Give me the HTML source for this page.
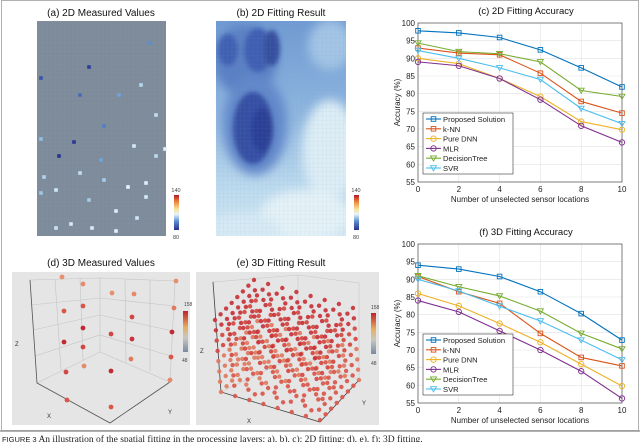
<!DOCTYPE html>
<html><head><meta charset="utf-8"><style>
body{margin:0;background:#fff;}
svg{display:block;font-family:"Liberation Sans",sans-serif;}
</style></head><body>
<svg id="fig" width="640" height="442" viewBox="0 0 640 442">
<defs>
<linearGradient id="cbar2d" x1="0" y1="1" x2="0" y2="0">
<stop offset="0" stop-color="#2a2f8a"/><stop offset="0.25" stop-color="#5b8fd0"/><stop offset="0.45" stop-color="#e8f4f8"/><stop offset="0.6" stop-color="#f7e29a"/><stop offset="0.8" stop-color="#ef8a3a"/><stop offset="1" stop-color="#b2182b"/>
</linearGradient>
<linearGradient id="cbar3d" x1="0" y1="1" x2="0" y2="0">
<stop offset="0" stop-color="#7a8aa0"/><stop offset="0.35" stop-color="#c8c8c0"/><stop offset="0.6" stop-color="#e6b060"/><stop offset="1" stop-color="#c0202a"/>
</linearGradient>
<linearGradient id="hmbase" x1="0" y1="0" x2="0" y2="1">
<stop offset="0" stop-color="#6f9ad3"/><stop offset="0.45" stop-color="#8fb7e0"/><stop offset="0.75" stop-color="#b9d8ee"/><stop offset="1" stop-color="#d3e8f4"/>
</linearGradient>
<filter id="blur6"><feGaussianBlur stdDeviation="5"/></filter>
<filter id="blur3"><feGaussianBlur stdDeviation="2.5"/></filter>
<clipPath id="hmclip"><rect x="216" y="21" width="130" height="215"/></clipPath>
<clipPath id="eclip"><rect x="196" y="272" width="183" height="153"/></clipPath>
<pattern id="gridpat" width="4.3" height="4.3" patternUnits="userSpaceOnUse"><path d="M4.3 0V4.3H0" fill="none" stroke="#8a97a6" stroke-width="0.5"/></pattern>
</defs>

<rect x="1.5" y="0.5" width="637" height="430" fill="none" stroke="#b0b0b0"/>

<!-- (a) -->
<g>
<text x="101" y="16" font-size="10" text-anchor="middle" fill="#111">(a) 2D Measured Values</text>
<rect x="37" y="21" width="129" height="215" fill="#7d8b9b"/>
<rect x="37" y="21" width="129" height="215" fill="url(#gridpat)" opacity="0.6"/>
<g id="asq"></g>
<rect x="174" y="195" width="5" height="35" fill="url(#cbar2d)"/>
<text x="176" y="192" font-size="5.5" text-anchor="middle" fill="#444">140</text>
<text x="176" y="239" font-size="5.5" text-anchor="middle" fill="#444">80</text>
</g>

<!-- (b) -->
<g>
<text x="281" y="16" font-size="10" text-anchor="middle" fill="#111">(b) 2D Fitting Result</text>
<g clip-path="url(#hmclip)">
<rect x="216" y="21" width="130" height="215" fill="url(#hmbase)"/>
<g filter="url(#blur6)">
<ellipse cx="330" cy="150" rx="28" ry="50" fill="#dcedf6"/>
<ellipse cx="305" cy="215" rx="45" ry="25" fill="#e4f2f8"/>
<ellipse cx="245" cy="228" rx="35" ry="14" fill="#d6eaf5"/>
<ellipse cx="330" cy="45" rx="22" ry="25" fill="#a2c4e5"/>
<ellipse cx="245" cy="60" rx="32" ry="35" fill="#5a80c5"/>
<ellipse cx="255" cy="125" rx="32" ry="50" fill="#6288cb"/>
</g>
<g filter="url(#blur3)">
<ellipse cx="258" cy="50" rx="14" ry="22" fill="#3f5eb2"/>
<ellipse cx="228" cy="50" rx="10" ry="16" fill="#4060b2"/>
<ellipse cx="253" cy="128" rx="20" ry="36" fill="#3450a4"/>
<ellipse cx="262" cy="130" rx="11" ry="22" fill="#2b3f97"/>
<ellipse cx="272" cy="48" rx="8" ry="18" fill="#35509f"/>
</g>
<rect x="216" y="21" width="130" height="215" fill="url(#gridpat)" opacity="0.25"/>
</g>
<rect x="354" y="195" width="5" height="35" fill="url(#cbar2d)"/>
<text x="356" y="192" font-size="5.5" text-anchor="middle" fill="#444">140</text>
<text x="356" y="239" font-size="5.5" text-anchor="middle" fill="#444">80</text>
</g>

<!-- (d) -->
<g>
<text x="101" y="266" font-size="10" text-anchor="middle" fill="#111">(d) 3D Measured Values</text>
<rect x="12" y="272" width="178" height="153" fill="#e5e5e5"/>
<g stroke="#c4c4c4" stroke-width="0.6" fill="none">
<path d="M30 280L37 383L110 423L170 382L175 281L100 278Z"/>
<path d="M100 278L100 352L37 383M100 352L170 382"/>
<path d="M55 279L61 370M80 278L83 360M125 279L126 362M150 280L150 372"/>
<path d="M31 305L100 298L174 306M33 330L100 315L173 331M35 356L100 335L171 356"/>
</g>
<path d="M30 280L37 383L110 423L170 382" stroke="#555" stroke-width="0.8" fill="none"/>
<g id="dpts"></g>
<text x="15" y="346" font-size="6" fill="#333">Z</text>
<text x="47" y="418" font-size="6" fill="#333">X</text>
<text x="168" y="414" font-size="6" fill="#333">Y</text>
<rect x="183" y="311" width="5" height="41" fill="url(#cbar3d)"/>
<text x="184" y="306" font-size="5" fill="#444">158</text>
<text x="182" y="362" font-size="5" fill="#444">48</text>
</g>

<!-- (e) -->
<g>
<text x="281" y="266" font-size="10" text-anchor="middle" fill="#111">(e) 3D Fitting Result</text>
<rect x="196" y="272" width="183" height="153" fill="#e5e5e5"/>
<g stroke="#c8c8c8" stroke-width="0.6" fill="none">
<path d="M213 282L221 392L320 422L359 380L359 283L298 275Z"/>
<path d="M298 275L298 355L221 392M298 355L359 380"/>
</g>
<path d="M213 282L221 392L320 422L359 380" stroke="#444" stroke-width="0.8" fill="none"/>
<g id="epts" clip-path="url(#eclip)"></g>
<text x="200" y="353" font-size="6" fill="#333">Z</text>
<text x="247" y="423" font-size="6" fill="#333">X</text>
<text x="362" y="405" font-size="6" fill="#333">Y</text>
<rect x="371" y="313" width="5" height="41" fill="url(#cbar3d)"/>
<text x="371" y="309" font-size="5" fill="#444">158</text>
<text x="371" y="365" font-size="5" fill="#444">48</text>
</g>

<g id="chartC"></g>
<g id="chartF"></g>

<line x1="0" y1="431" x2="640" y2="431" stroke="#999" stroke-width="1.5"/>
<text x="2" y="442" font-size="9.5" fill="#222" font-family="Liberation Serif, serif"><tspan font-size="7.5" font-family="Liberation Sans, sans-serif">FIGURE 3</tspan>  An illustration of the spatial fitting in the processing layers: a), b), c): 2D fitting; d), e), f): 3D fitting.</text>
</svg>
<script>
const NS='http://www.w3.org/2000/svg';
function mk(t,a,p){const e=document.createElementNS(NS,t);for(const k in a)e.setAttribute(k,a[k]);p.appendChild(e);return e;}

const xTicks=[0,2,4,6,8,10];
const yTicks=[55,60,65,70,75,80,85,90,95,100];
const seriesNames=['Proposed Solution','k-NN','Pure DNN','MLR','DecisionTree','SVR'];
const seriesColors=['#0072BD','#D95319','#EDB120','#7E2F8E','#77AC30','#4DBEEE'];
const seriesMarkers=['square','square','circle','circle','tri','tri'];
const c2dProposed=[97.8,97.2,95.9,92.4,87.3,81.9];
const c2dKNN=[92.9,91.5,91.0,85.8,77.8,74.5];
const c2dDNN=[90.0,88.5,84.3,79.2,72.1,69.8];
const c2dMLR=[89.0,87.9,84.3,78.3,70.9,66.2];
const c2dDT=[94.3,91.9,91.3,89.0,80.9,79.2];
const c2dSVR=[92.2,90.0,87.3,84.0,75.8,71.5];
const f3dProposed=[94.0,92.9,90.8,86.5,80.3,72.8];
const f3dKNN=[90.8,86.5,83.2,74.7,67.9,65.5];
const f3dDNN=[86.0,82.5,77.5,72.2,66.0,59.8];
const f3dMLR=[84.0,80.8,75.4,70.0,64.0,56.3];
const f3dDT=[91.0,87.9,85.3,81.0,74.7,70.3];
const f3dSVR=[90.0,86.7,82.4,78.2,72.8,67.2];

function drawChart(g,title,top,series,tag){
  const L=418,R=622,T=top,B=top+159;
  const sx=v=>L+(v-0)/10*(R-L);
  const sy=v=>B-(v-55)/45*(B-T);
  mk('rect',{x:L,y:T,width:R-L,height:B-T,fill:'#fff'},g);
  yTicks.forEach(v=>{
    const l=mk('line',{x1:L,x2:R,y1:sy(v),y2:sy(v),stroke:'#e2e2e2','stroke-width':0.6},g);
    
    
    const t=mk('text',{x:L-3,y:sy(v)+3,'font-size':8,'text-anchor':'end',fill:'#222'},g);t.textContent=v;
    
    
  });
  xTicks.forEach(v=>{
    mk('line',{x1:sx(v),x2:sx(v),y1:T,y2:B,stroke:'#e2e2e2','stroke-width':0.6},g);
    const t=mk('text',{x:sx(v),y:B+10,'font-size':8,'text-anchor':'middle',fill:'#222'},g);t.textContent=v;
    
    
  });
  mk('rect',{x:L,y:T,width:R-L,height:B-T,fill:'none',stroke:'#333','stroke-width':0.6},g);
  const tt=mk('text',{x:(L+R)/2+6,y:T-9,'font-size':9.5,'text-anchor':'middle',fill:'#111'},g);tt.textContent=title;
  
  
  const xl=mk('text',{x:(L+R)/2,y:B+20,'font-size':8,'text-anchor':'middle',fill:'#222'},g);xl.textContent='Number of unselected sensor locations';
  
  
  const yl=mk('text',{x:0,y:0,'font-size':8,'text-anchor':'middle',fill:'#222',transform:`translate(400,${(T+B)/2}) rotate(-90)`},g);yl.textContent='Accuracy (%)';
  
  
  function marker(p,x,y,i){
    const c=seriesColors[i],m=seriesMarkers[i];let e;
    if(m==='square')e=mk('rect',{x:x-2.3,y:y-2.3,width:4.6,height:4.6,fill:'none',stroke:c,'stroke-width':0.9},p);
    else if(m==='circle')e=mk('circle',{cx:x,cy:y,r:2.7,fill:'none',stroke:c,'stroke-width':0.9},p);
    else e=mk('path',{d:`M${x-3} ${y-2.3}L${x+3} ${y-2.3}L${x} ${y+2.8}Z`,fill:'none',stroke:c,'stroke-width':0.9},p);
    return e;
  }
  series.forEach((vals,i)=>{
    const sg=mk('g',{},g);
    
    
    mk('polyline',{points:vals.map((v,k)=>sx(xTicks[k])+','+sy(v)).join(' '),fill:'none',stroke:seriesColors[i],'stroke-width':1.1},sg);
    vals.forEach((v,k)=>{const e=marker(sg,sx(xTicks[k]),sy(v),i);
      
      });
  });
  const lg=mk('g',{},g);
  
  
  const lx=423,ly=B-69;
  mk('rect',{x:lx,y:ly,width:90,height:61,fill:'#fff',stroke:'#333','stroke-width':0.6},lg);
  seriesNames.forEach((n,i)=>{
    const y=ly+6+i*9.8;
    const eg=mk('g',{},lg);
    
    
    mk('line',{x1:lx+3,x2:lx+18,y1:y,y2:y,stroke:seriesColors[i],'stroke-width':1.1},eg);
    marker(eg,lx+10.5,y,i);
    const t=mk('text',{x:lx+20,y:y+3,'font-size':7.6,fill:'#222'},eg);t.textContent=n;
  });
}
drawChart(document.getElementById('chartC'),'(c) 2D Fitting Accuracy',23,[c2dProposed,c2dKNN,c2dDNN,c2dMLR,c2dDT,c2dSVR],'c');
drawChart(document.getElementById('chartF'),'(f) 3D Fitting Accuracy',244,[f3dProposed,f3dKNN,f3dDNN,f3dMLR,f3dDT,f3dSVR],'f');

const aSq=[[150,43,'#5b8fd0'],[89,67,'#2c3e9a'],[41,78,'#3954a8'],[141,85,'#b5d6ee'],[80,95,'#4c6bb6'],[119,95,'#6ea3db'],[156,115,'#c0deef'],[104,126,'#4f7fc6'],[41,139,'#8ec1e5'],[74,142,'#2b3793'],[134,146,'#d3eaf5'],[165,149,'#dff0f8'],[59,156,'#27338e'],[101,160,'#6fa4da'],[156,156,'#bcd9ee'],[44,177,'#b2d3ec'],[80,173,'#c3dff0'],[104,180,'#a6cde9'],[146,183,'#dfeff7'],[128,187,'#e8f3f8'],[56,190,'#cfe6f3'],[41,193,'#9dc7e8'],[146,197,'#d6ebf5'],[89,200,'#a5cbe8'],[116,211,'#dcedf6'],[137,218,'#cfe6f3'],[71,224,'#d6ebf5'],[56,228,'#cde3f1'],[92,228,'#d9ecf5'],[116,231,'#e2f0f7']];
const ag=document.getElementById('asq');
aSq.forEach(s=>{const r=mk('rect',{x:s[0]-1.8,y:s[1]-1.8,width:3.6,height:3.6,fill:s[2]},ag);
  
  });

const dPts=[[62,277,'#e8906e'],[83,284,'#e58a6a'],[112,293,'#e8906e'],[134,294,'#e6896b'],[176,281,'#e8906e'],[64,311,'#d9564a'],[83,306,'#d9564a'],[132,317,'#d24646'],[174,308,'#e07a60'],[83,328,'#c02a33'],[111,334,'#d24646'],[132,339,'#c8323a'],[172,332,'#c02a33'],[64,342,'#c02a33'],[83,347,'#d24646'],[131,359,'#e07a60'],[171,357,'#d9564a'],[66,372,'#d24646'],[84,366,'#e58a6a'],[111,371,'#c02a33'],[170,380,'#e58a6a'],[67,400,'#d9564a'],[111,407,'#d9564a']];
const dg=document.getElementById('dpts');
dPts.forEach(p=>{const c=mk('circle',{cx:p[0],cy:p[1],r:2.4,fill:p[2]},dg);
  
  });

const eg2=document.getElementById('epts');
const F=[320,420],ex=[-99,-28],ey=[39,-40],ez=[-6,-72];
const N=7,pts=[];
for(let i=0;i<=N;i++)for(let j=0;j<=N;j++)for(let k=0;k<=N;k++){
  const a=i/N,b=j/N,c=k/N;
  if(!(a===0||b===0||c===1||a===1||b===1||((i+j+k)%2===0)))continue;
  pts.push([a,b,c]);
}
pts.sort((p,q)=>(q[0]+q[1])-(p[0]+p[1]));
pts.forEach(p=>{
  const x=F[0]+p[0]*ex[0]+p[1]*ey[0]+p[2]*ez[0];
  const y=F[1]+p[0]*ex[1]+p[1]*ey[1]+p[2]*ez[1];
  const t=p[2];
  const col=t>0.75?'#c8323a':t>0.45?'#d4473f':(p[0]+p[1]>0.9?'#e07a60':'#d9564a');
  const c=mk('circle',{cx:x.toFixed(1),cy:y.toFixed(1),r:2.2,fill:col,opacity:0.92},eg2);
  
  
});
</script>
</body></html>
